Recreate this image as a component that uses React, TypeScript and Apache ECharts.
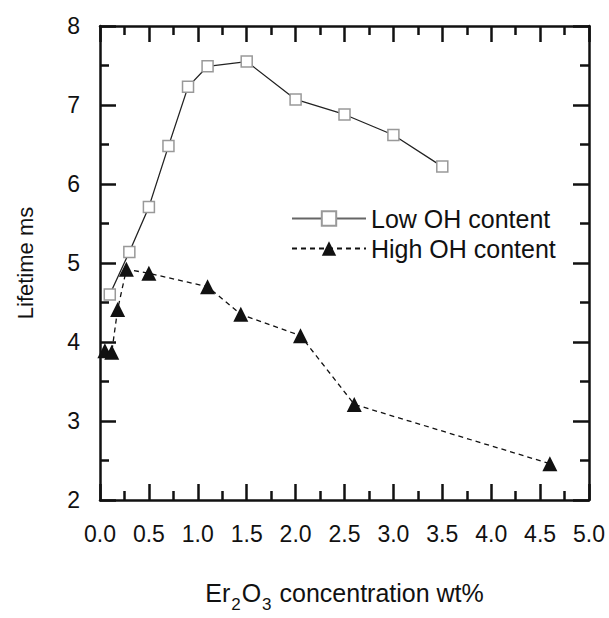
import React, { useEffect, useRef } from "react";
import * as echarts from "echarts";

const lowOH: [number, number][] = [
  [0.1, 4.6], [0.3, 5.14], [0.5, 5.71], [0.7, 6.48], [0.9, 7.23], [1.1, 7.49],
  [1.5, 7.55], [2.0, 7.07], [2.5, 6.88], [3.0, 6.62], [3.5, 6.22],
];
const highOH: [number, number][] = [
  [0.05, 3.89], [0.12, 3.87], [0.18, 4.41], [0.27, 4.92], [0.5, 4.87], [1.1, 4.7],
  [1.44, 4.35], [2.05, 4.08], [2.6, 3.21], [4.6, 2.46],
];
const seriesNames = ["Low OH content", "High OH content"];
const xRange = { min: 0, max: 5, interval: 0.5 };
const yRange = { min: 2, max: 8, interval: 1 };

const FONT = "'Liberation Sans', Arial, Helvetica, sans-serif";

export default function App() {
  const ref = useRef<HTMLDivElement>(null);
  useEffect(() => {
    if (!ref.current) return;
    const chart = echarts.init(ref.current, undefined, { renderer: "svg" });
    const axisLine = { show: true, onZero: false, lineStyle: { color: "#111", width: 2.5 } };
    const axisTick = { show: true, inside: true, length: 16, lineStyle: { color: "#111", width: 2.5 } };
    const minorTick = { show: true, splitNumber: 2, length: 9, lineStyle: { color: "#111", width: 2.5 } };
    const labelStyle = { color: "#111", fontSize: 23, fontFamily: FONT };
    chart.setOption({
      animation: false,
      grid: { left: 100, right: 20, top: 26, bottom: 104, containLabel: false },
      legend: {
        orient: "vertical",
        left: 286,
        top: 201,
        itemWidth: 74,
        itemHeight: 18,
        itemGap: 5,
        textStyle: { color: "#111", fontSize: 25, fontFamily: FONT },
        data: [
          { name: seriesNames[0], lineStyle: { color: "#666" } },
          { name: seriesNames[1] },
        ],
      },
      xAxis: [
        {
          type: "value",
          position: "bottom",
          ...xRange,
          axisLine,
          axisTick,
          minorTick,
          splitLine: { show: false },
          axisLabel: { ...labelStyle, margin: 22, formatter: (v: number) => v.toFixed(1) },
          name: "Er{s|2}O{s|3} concentration wt%",
          nameLocation: "middle",
          nameGap: 72,
          nameTextStyle: {
            color: "#111",
            fontSize: 25,
            fontFamily: FONT,
            rich: { s: { fontSize: 17, fontFamily: FONT, color: "#111", padding: [24, 1, 0, 1] } },
          },
        },
        {
          type: "value",
          position: "top",
          ...xRange,
          axisLine,
          axisTick,
          minorTick,
          splitLine: { show: false },
          axisLabel: { show: false },
        },
      ],
      yAxis: [
        {
          type: "value",
          position: "left",
          ...yRange,
          axisLine,
          axisTick,
          minorTick,
          splitLine: { show: false },
          axisLabel: { ...labelStyle, margin: 20 },
          name: "Lifetime ms",
          nameLocation: "middle",
          nameGap: 64,
          nameTextStyle: { color: "#111", fontSize: 22, fontFamily: FONT },
        },
        {
          type: "value",
          position: "right",
          ...yRange,
          axisLine,
          axisTick,
          minorTick,
          splitLine: { show: false },
          axisLabel: { show: false },
        },
      ],
      series: [
        {
          name: seriesNames[0],
          type: "line",
          data: lowOH,
          symbol: "rect",
          symbolSize: 11,
          showSymbol: true,
          lineStyle: { color: "#222", width: 1.3, type: "solid" },
          itemStyle: { color: "#fff", borderColor: "#999", borderWidth: 1.5 },
          z: 3,
        },
        {
          name: seriesNames[1],
          type: "line",
          data: highOH,
          symbol: "triangle",
          symbolSize: 15,
          showSymbol: true,
          lineStyle: { color: "#111", width: 1.3, type: [5, 4] },
          itemStyle: { color: "#111", borderColor: "#111", borderWidth: 0 },
          z: 4,
        },
      ],
    });
    return () => chart.dispose();
  }, []);
  return (
    <div
      ref={ref}
      style={{ position: "fixed", left: 0, top: 0, width: 609, height: 618, background: "#fff" }}
    />
  );
}
